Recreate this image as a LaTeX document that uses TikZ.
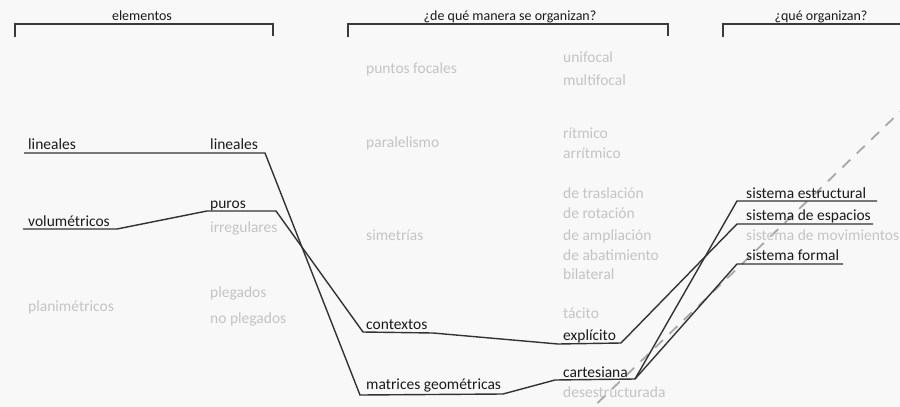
\documentclass[tikz,border=0pt]{standalone}
\usepackage{fontspec}
\setmainfont{Carlito}
\definecolor{bg}{HTML}{F8F8F8}
\definecolor{ink}{HTML}{1A1A1A}
\definecolor{faint}{HTML}{C4C4C4}
\definecolor{wire}{HTML}{333333}
\definecolor{brk}{HTML}{3A3A3A}
\definecolor{dash}{HTML}{A8A8A8}
\tikzset{
  lbl/.style={anchor=base west,inner sep=0pt,font=\fontsize{15.5}{18}\selectfont,text=ink},
  dim/.style={lbl,text=faint},
  head/.style={anchor=base,inner sep=0pt,font=\fontsize{14}{16}\selectfont,text=ink},
  wirepath/.style={draw=wire,line width=1.4pt,line join=miter},
  bracket/.style={draw=brk,line width=1.8pt},
  guide/.style={draw=dash,line width=1.8pt,dash pattern=on 11pt off 9pt}
}
\begin{document}
\begin{tikzpicture}[x=1pt,y=-1pt]
\fill[bg] (0,0) rectangle (900,407);
\useasboundingbox (0,0) rectangle (900,407);
\begin{scope}
\clip (0,0) rectangle (900,407);
% headers
\node[head] (h1) at (142,20) {elementos};
\node[head] (h2) at (510,20) {¿de qué manera se organizan?};
\node[head] (h3) at (821,20) {¿qué organizan?};
\draw[bracket] (15,37) -- (15,24) -- (273,24) -- (273,36);
\draw[bracket] (348,37) -- (348,24) -- (668,24) -- (668,36);
\draw[bracket] (723,37) -- (723,24) -- (930,24);
% dashed guide
\coordinate (g1) at (930,83);
\coordinate (g2) at (583,417);
\draw[guide] (g2) -- (g1);
% column 1
\node[lbl] (lin1) at (28,149) {lineales};
\node[lbl] (vol) at (28,226) {volumétricos};
\node[dim] (plan) at (28,311) {planimétricos};
% column 2
\node[lbl] (lin2) at (210,149) {lineales};
\node[lbl] (pur) at (210,208) {puros};
\node[dim] (irr) at (210,232) {irregulares};
\node[dim] (pleg) at (210,297) {plegados};
\node[dim] (nopl) at (210,323) {no plegados};
% column 3
\node[dim] (pf) at (366,73) {puntos focales};
\node[dim] (par) at (366,147) {paralelismo};
\node[dim] (sim) at (366,240) {simetrías};
\node[lbl] (ctx) at (366,329) {contextos};
\node[lbl] (mat) at (366,389) {matrices geométricas};
% column 4
\node[dim] (uni) at (563,62) {unifocal};
\node[dim] (mul) at (563,85) {multifocal};
\node[dim] (rit) at (563,138) {rítmico};
\node[dim] (arr) at (563,158) {arrítmico};
\node[dim] (tra) at (563,198) {de traslación};
\node[dim] (rot) at (563,218) {de rotación};
\node[dim] (amp) at (563,240) {de ampliación};
\node[dim] (aba) at (563,260) {de abatimiento};
\node[dim] (bil) at (563,279) {bilateral};
\node[dim] (tac) at (563,318) {tácito};
\node[lbl] (exp) at (563,340) {explícito};
\node[lbl] (car) at (563,377) {cartesiana};
\node[dim] (des) at (563,397) {desestructurada};
% column 5
\node[lbl] (est) at (746,198) {sistema estructural};
\node[lbl] (esp) at (746,220) {sistema de espacios};
\node[dim] (mov) at (746,240) {sistema de movimientos};
\node[lbl] (for) at (746,260) {sistema formal};
% underline corners
\coordinate (a1) at (24,153);
\coordinate (a2) at (265,153);
\coordinate (m1) at (360,395);
\coordinate (m2) at (503,394);
\coordinate (c1) at (555,380);
\coordinate (c2) at (635,379);
\coordinate (e1) at (737,201);
\coordinate (e2) at (877,201);
\coordinate (f1) at (737,264);
\coordinate (f2) at (843,264);
\coordinate (v1) at (23,229);
\coordinate (v2) at (117,229);
\coordinate (p1) at (207,211);
\coordinate (p2) at (276,211);
\coordinate (k1) at (363,332);
\coordinate (k2) at (433,333);
\coordinate (x1) at (558,344);
\coordinate (x2) at (621,343);
\coordinate (s1) at (737,224);
\coordinate (s2) at (873,224);
% connectors
\draw[wirepath] (a1) -- (a2) -- (m1) -- (m2) -- (c1) -- (c2) -- (e1) -- (e2);
\draw[wirepath] (c2) -- (f1) -- (f2);
\draw[wirepath] (v1) -- (v2) -- (p1) -- (p2) -- (k1) -- (k2) -- (x1) -- (x2) -- (s1) -- (s2);
\end{scope}
\end{tikzpicture}
\end{document}
